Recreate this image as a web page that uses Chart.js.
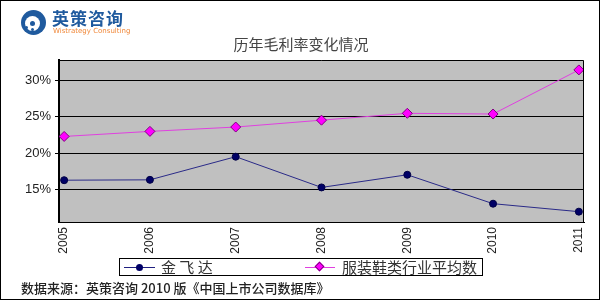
<!DOCTYPE html>
<html>
<head>
<meta charset="utf-8">
<script src="https://cdn.jsdelivr.net/npm/chart.js@4"></script>
<style>
  html, body { margin: 0; padding: 0; background: #fff; }
  .frame { position: relative; width: 600px; height: 300px; box-sizing: border-box; border: 1px solid #000; overflow: hidden; font-family: "Noto Sans CJK SC", sans-serif; }
  .frame canvas { position: absolute; left: 0; top: 0; }
  .logo-icon { position: absolute; left: 20px; top: 9px; width: 25px; height: 25px; border-radius: 50%; background: #1f5a9e; }
  .logo-icon .hole { position: absolute; left: 4px; top: 6px; width: 15px; height: 15px; border-radius: 50%; background: #fff; }
  .logo-icon .dot { position: absolute; border-radius: 50%; background: #1f5a9e; }
  .logo-cn { position: absolute; left: 51px; top: 6px; font-size: 17px; font-weight: bold; color: #1f5a9e; letter-spacing: 1px; line-height: 22px; }
  .logo-en { position: absolute; left: 52px; top: 26px; font-family: "DejaVu Sans", sans-serif; font-size: 7px; color: #f0883a; line-height: 9px; }
  .title { position: absolute; left: 0; width: 600px; top: 33px; text-align: center; font-size: 15px; color: #444; line-height: 20px; }
  .legend { position: absolute; left: 118px; top: 257px; width: 364px; height: 18px; box-sizing: border-box; border: 1px solid #000; background: #fff; }
  .legend .sample { position: absolute; top: 8px; height: 1px; }
  .legend .mk { position: absolute; }
  .legend .txt { position: absolute; top: -2px; font-size: 15px; line-height: 20px; color: #333; }
  .source { position: absolute; left: 20px; top: 278px; font-size: 13px; line-height: 18px; color: #222; font-weight: 500; }
</style>
</head>
<body>
<div class="frame">
  <canvas id="myChart" width="600" height="300"></canvas>
  <div class="logo-icon"><div class="hole"></div>
    <div class="dot" style="left:9px;top:11px;width:5px;height:5px"></div>
    <div class="dot" style="left:4px;top:16px;width:3px;height:3px"></div>
    <div class="dot" style="left:10px;top:18px;width:3px;height:3px"></div>
    <div class="dot" style="left:1px;top:10px;width:3px;height:3px"></div>
  </div>
  <div class="logo-cn">英策咨询</div>
  <div class="logo-en">Wistrategy Consulting</div>
  <div class="title">历年毛利率变化情况</div>
  <div class="legend">
    <div class="sample" style="left:4px;width:31px;background:#1f1f80"></div>
    <div class="mk" style="left:16px;top:5px;width:7px;height:7px;border-radius:50%;background:#000066"></div>
    <div class="txt" style="left:41px">金 飞 达</div>
    <div class="sample" style="left:185px;width:30px;background:#e040e0"></div>
    <div class="mk" style="left:196px;top:4px;width:7px;height:7px;transform:rotate(45deg);background:#ff00ff;border:1px solid #800080;box-sizing:border-box"></div>
    <div class="txt" style="left:222px">服装鞋类行业平均数</div>
  </div>
  <div class="source">数据来源：英策咨询 2010 版《中国上市公司数据库》</div>
</div>
<script>
var years = [2005, 2006, 2007, 2008, 2009, 2010, 2011];
var jinfeida = [16.25, 16.3, 19.5, 15.25, 17.0, 13.0, 11.9];
var industry_avg = [22.3, 23.0, 23.6, 24.55, 25.5, 25.4, 31.5];
var y_ticks = [15, 20, 25, 30];

var ctx = document.getElementById('myChart').getContext('2d');

function to_points(values)
{
    return values.map((v, i) => ({x: years[i], y: v}));
}

// gray plot background and frame around it
const plot_background = {
    id: 'plot_background',
    beforeDraw(chart) {
        let a = chart.chartArea;
        let c = chart.ctx;
        c.save();
        c.fillStyle = '#c0c0c0';
        c.fillRect(a.left, a.top, a.right - a.left, a.bottom - a.top);
        c.restore();
    },
    afterDatasetsDraw(chart) {
        let a = chart.chartArea;
        let c = chart.ctx;
        c.save();
        c.strokeStyle = '#000';
        c.lineWidth = 1;
        c.beginPath();
        c.moveTo(a.left, a.top + 0.5);
        c.lineTo(a.right - 0.5, a.top + 0.5);
        c.lineTo(a.right - 0.5, a.bottom);
        c.stroke();
        c.restore();
    }
};

// year labels, vertical, reading bottom to top
const year_labels = {
    id: 'year_labels',
    afterDraw(chart) {
        let c = chart.ctx;
        let xs = chart.scales.x;
        c.save();
        c.fillStyle = '#222';
        c.font = '12px "Liberation Sans", Arial, sans-serif';
        c.textAlign = 'right';
        c.textBaseline = 'middle';
        years.forEach(y => {
            c.save();
            c.translate(xs.getPixelForValue(y), chart.chartArea.bottom + 5);
            c.rotate(-Math.PI / 2);
            c.fillText(String(y), 0, 0);
            c.restore();
        });
        c.restore();
    }
};

var chart = new Chart(ctx, {
    type: 'line',
    data: {
        datasets: [
            {
                label: '金飞达',
                data: to_points(jinfeida),
                borderColor: '#2a2a88',
                borderWidth: 1,
                pointStyle: 'circle',
                pointRadius: 3.5,
                pointBackgroundColor: '#000066',
                pointBorderColor: '#000044',
                pointBorderWidth: 1
            },
            {
                label: '服装鞋类行业平均数',
                data: to_points(industry_avg),
                borderColor: '#e040e0',
                borderWidth: 1,
                pointStyle: 'rectRot',
                pointRadius: 5,
                pointBackgroundColor: '#ff00ff',
                pointBorderColor: '#800080',
                pointBorderWidth: 1
            }
        ]
    },
    options: {
        responsive: false,
        animation: false,
        layout: {padding: {top: 59, right: 17, left: 0, bottom: 0}},
        plugins: {legend: {display: false}, title: {display: false}, tooltip: {enabled: false}},
        scales: {
            x: {
                type: 'linear',
                min: 2004.94,
                max: 2011.06,
                grid: {display: false},
                border: {display: true, color: '#000', width: 1},
                ticks: {display: false},
                afterFit: s => { s.height = 79; }
            },
            y: {
                min: 10.47,
                max: 32.87,
                afterBuildTicks: s => { s.ticks = y_ticks.map(v => ({value: v})); },
                grid: {color: '#000', lineWidth: 1, tickLength: 4, drawOnChartArea: true},
                border: {display: true, color: '#000', width: 2},
                ticks: {
                    color: '#222',
                    font: {family: '"Liberation Sans", Arial, sans-serif', size: 13},
                    padding: 4,
                    callback: v => v + '%'
                },
                afterFit: s => { s.width = 58; }
            }
        }
    },
    plugins: [plot_background, year_labels]
});
</script>
</body>
</html>
